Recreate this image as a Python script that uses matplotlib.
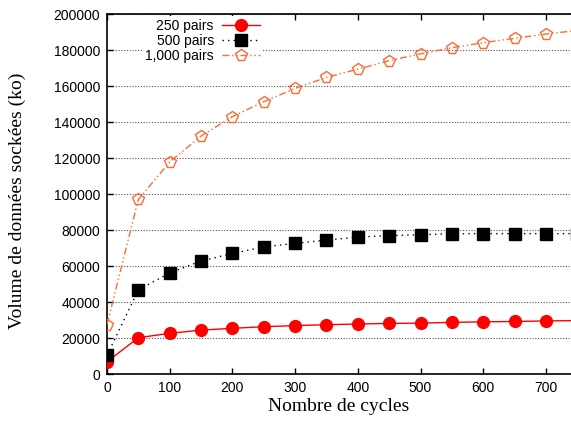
import matplotlib
matplotlib.use("Agg")
import matplotlib.pyplot as plt

cycles = [0, 50, 100, 150, 200, 250, 300, 350, 400, 450, 500, 550, 600, 650, 700, 750]
pairs_250 = [6800, 20200, 22600, 24400, 25400, 26300, 26900, 27400, 27800, 28100, 28300, 28700, 29000, 29200, 29500, 29700]
pairs_500 = [10400, 46700, 56200, 62800, 67000, 70600, 72600, 74400, 76100, 76900, 77400, 77900, 78000, 78000, 78000, 78000]
pairs_1000 = [27500, 97000, 117800, 132200, 143000, 151300, 158700, 164800, 169400, 174100, 177900, 181300, 184100, 186500, 188900, 190900]
labels = ["250 pairs", "500 pairs", "1,000 pairs"]
xticks = [0, 100, 200, 300, 400, 500, 600, 700]
yticks = list(range(0, 200001, 20000))

orange = "#ff6a33"

fig = plt.figure(figsize=(5.71, 4.26), dpi=100)
ax = fig.add_axes([0.1874, 0.122, 0.8126, 0.845])

ax.plot(cycles, pairs_250, color="red", linestyle="-", linewidth=1.0,
        marker="o", markersize=8.5, markerfacecolor="red", markeredgecolor="red",
        label=labels[0], zorder=3)
ax.plot(cycles, pairs_500, color="black", linestyle=(0, (1, 3)), linewidth=1.0,
        marker="s", markersize=8, markerfacecolor="black", markeredgecolor="black",
        label=labels[1], zorder=3)
ax.plot(cycles, pairs_1000, color=orange, linestyle=(0, (5, 2, 1, 2, 1, 2)), linewidth=1.0,
        marker="p", markersize=8.5, markerfacecolor="none", markeredgecolor=orange,
        markeredgewidth=1.0, label=labels[2], zorder=3)

ax.set_xlim(0, 740)
ax.set_ylim(0, 200000)
ax.set_xticks(xticks)
ax.set_yticks(yticks)
ax.tick_params(direction="in", top=True, right=False, length=4, width=1,
               labelsize=10, pad=5)
for lab in ax.get_xticklabels() + ax.get_yticklabels():
    lab.set_fontfamily("Liberation Sans")

ax.yaxis.grid(True, linestyle=(0, (1, 1.5)), color="#555555", linewidth=0.8)
ax.set_axisbelow(True)
for s in ["left", "bottom", "top"]:
    ax.spines[s].set_linewidth(1.2)
ax.spines["right"].set_visible(False)

ax.set_xlabel("Nombre de cycles", fontfamily="Liberation Serif", fontsize=14, labelpad=2)
ax.set_ylabel("Volume de données sockées (ko)", fontfamily="Liberation Serif", fontsize=14)
ax.yaxis.set_label_coords(-0.175, 0.48)

leg = ax.legend(loc="upper right", bbox_to_anchor=(0.335, 0.995), frameon=True, markerfirst=False,
                handlelength=2.7, handletextpad=0.6, labelspacing=0.08,
                borderaxespad=0.0, borderpad=0.2, prop={"family": "Liberation Sans", "size": 10})
leg.get_frame().set_edgecolor("none")
leg.get_frame().set_facecolor("white")
leg.get_frame().set_alpha(1.0)

fig.savefig("out.png", dpi=100)
